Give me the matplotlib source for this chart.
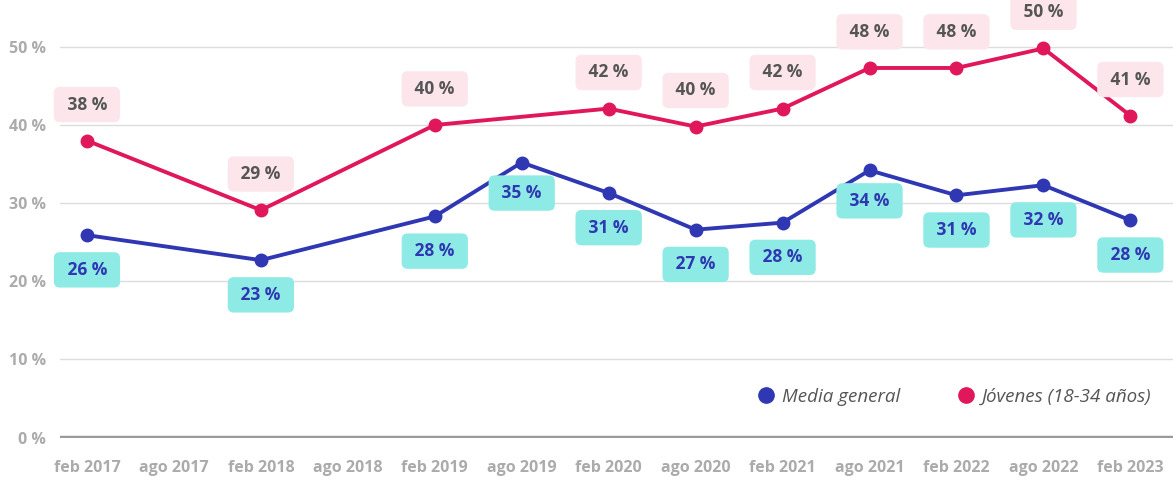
import matplotlib
matplotlib.use("Agg")
import matplotlib.pyplot as plt
from matplotlib.lines import Line2D

categories = ["feb 2017", "ago 2017", "feb 2018", "ago 2018", "feb 2019", "ago 2019",
              "feb 2020", "ago 2020", "feb 2021", "ago 2021", "feb 2022", "ago 2022", "feb 2023"]

media_cats = ["feb 2017", "feb 2018", "feb 2019", "ago 2019", "feb 2020", "ago 2020",
              "feb 2021", "ago 2021", "feb 2022", "ago 2022", "feb 2023"]
media_vals = [25.9, 22.7, 28.3, 35.2, 31.3, 26.6, 27.5, 34.2, 31.0, 32.3, 27.8]
media_labels = ["26 %", "23 %", "28 %", "35 %", "31 %", "27 %", "28 %", "34 %", "31 %", "32 %", "28 %"]

jov_cats = ["feb 2017", "feb 2018", "feb 2019", "feb 2020", "ago 2020",
            "feb 2021", "ago 2021", "feb 2022", "ago 2022", "feb 2023"]
jov_vals = [38.0, 29.1, 40.0, 42.1, 39.8, 42.1, 47.3, 47.3, 49.8, 41.2]
jov_labels = ["38 %", "29 %", "40 %", "42 %", "40 %", "42 %", "48 %", "48 %", "50 %", "41 %"]

yticks = [0, 10, 20, 30, 40, 50]
ytick_labels = ["0 %", "10 %", "20 %", "30 %", "40 %", "50 %"]

BLUE = "#2F37B3"
RED = "#E0185B"
PINK_BOX = "#FCE6EC"
CYAN_BOX = "#8DEAE4"
GREY_TXT = "#ABABAB"
DARK_TXT = "#555555"

plt.rcParams['font.family'] = ['Open Sans', 'DejaVu Sans']

fig = plt.figure(figsize=(11.73, 4.82), dpi=100)
ax = fig.add_axes([60 / 1173, (482 - 437.5) / 482, 1 - 60 / 1173, 1 - (482 - 437.5) / 482])

idx = {c: i for i, c in enumerate(categories)}
mx = [idx[c] for c in media_cats]
jx = [idx[c] for c in jov_cats]

ax.set_xlim(-0.31, 12.49)
ax.set_ylim(0, 56)

for y in yticks[1:]:
    ax.axhline(y, color="#DDDDDD", lw=1.0, zorder=0)
ax.axhline(0, color="#9A9A9A", lw=3.2, zorder=1)

ax.plot(jx, jov_vals, color=RED, lw=2.8, marker="o", ms=9, zorder=3, solid_capstyle="round")
ax.plot(mx, media_vals, color=BLUE, lw=2.8, marker="o", ms=9, zorder=3, solid_capstyle="round")

box_kw = dict(boxstyle="round,pad=0.5,rounding_size=0.35", ec="none")
for x, v, t in zip(jx, jov_vals, jov_labels):
    ax.annotate(" " + t + " ", (x, v), xytext=(0, 26), textcoords="offset points", ha="center",
                va="center", fontsize=12.5, fontweight="bold", color=DARK_TXT, zorder=5,
                bbox=dict(fc=PINK_BOX, **box_kw))

for x, v, t in zip(mx, media_vals, media_labels):
    off = -22 if t in ("35 %", "34 %") else -25
    ax.annotate(" " + t + " ", (x, v), xytext=(0, off), textcoords="offset points", ha="center",
                va="center", fontsize=12.5, fontweight="bold", color=BLUE, zorder=5,
                bbox=dict(fc=CYAN_BOX, **box_kw))

ax.set_xticks(range(len(categories)))
ax.set_xticklabels(categories)
ax.set_yticks(yticks)
ax.set_yticklabels(ytick_labels)
ax.tick_params(axis="both", length=0, labelsize=11.5, labelcolor=GREY_TXT)
ax.tick_params(axis="x", pad=16)
ax.tick_params(axis="y", pad=10)
for lab in ax.get_xticklabels() + ax.get_yticklabels():
    lab.set_fontweight("bold")
for s in ax.spines.values():
    s.set_visible(False)

handles = [Line2D([], [], ls="none", marker="o", ms=11, color=BLUE),
           Line2D([], [], ls="none", marker="o", ms=11, color=RED)]
leg = ax.legend(handles, ["Media general", "Jóvenes (18-34 años)"], loc="center left",
                frameon=False, ncol=2, handletextpad=0.35, columnspacing=3.0, handlelength=1.0,
                borderaxespad=0, borderpad=0, prop=dict(style="italic", size=13.5))
leg.set_bbox_to_anchor(((757 - 60) / 1113, (437.5 - 397) / 437.5), transform=ax.transAxes)
for t in leg.get_texts():
    t.set_color(DARK_TXT)

fig.savefig("out.png", dpi=100)
